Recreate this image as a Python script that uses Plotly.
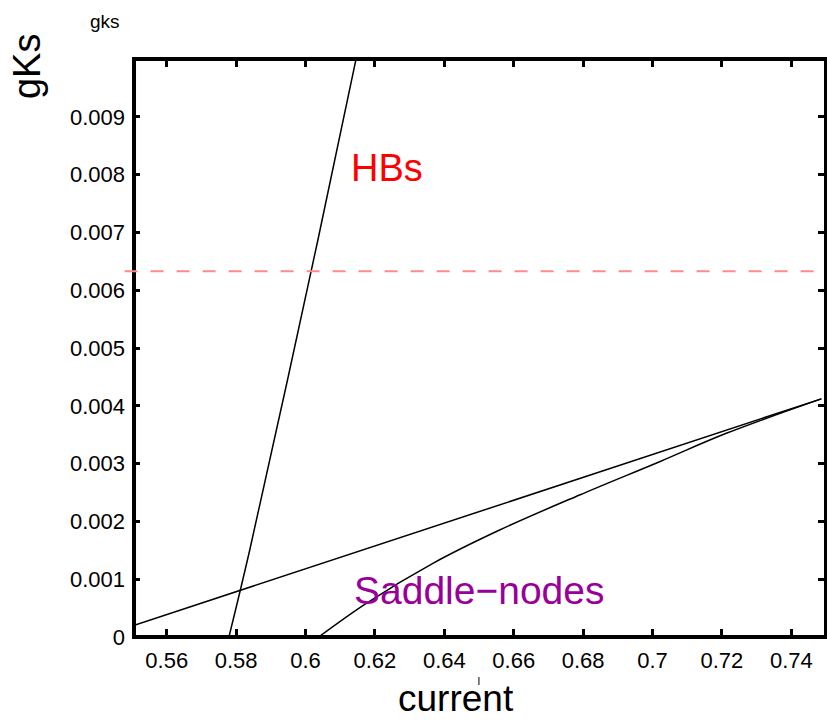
import plotly.graph_objects as go

# ---- data ----
hb_x = [0.57793, 0.58393, 0.60357, 0.61464]
hb_y = [0.0, 0.001505, 0.006869, 0.01002]

sn_line_x = [0.55, 0.74865]
sn_line_y = [0.00019, 0.00412]

sn_curve_x = [0.60378, 0.61752, 0.63671, 0.65594, 0.67899, 0.70204, 0.72127, 0.74865]
sn_curve_y = [0.0, 0.000583, 0.001275, 0.001851, 0.002457, 0.003033, 0.003524, 0.00412]

ref_level = 0.00633

x_ticks = [0.56, 0.58, 0.60, 0.62, 0.64, 0.66, 0.68, 0.70, 0.72, 0.74]
x_ticktext = ["0.56", "0.58", "0.6", "0.62", "0.64", "0.66", "0.68", "0.7", "0.72", "0.74"]
y_ticks = [0, 0.001, 0.002, 0.003, 0.004, 0.005, 0.006, 0.007, 0.008, 0.009]
y_ticktext = ["0", "0.001", "0.002", "0.003", "0.004", "0.005", "0.006", "0.007", "0.008", "0.009"]

FONT = "Liberation Sans"

fig = go.Figure()
line_style = dict(color="black", width=1.5)
fig.add_trace(go.Scatter(x=hb_x, y=hb_y, mode="lines", line=dict(line_style, shape="spline"), showlegend=False))
fig.add_trace(go.Scatter(x=sn_line_x, y=sn_line_y, mode="lines", line=line_style, showlegend=False))
fig.add_trace(go.Scatter(x=sn_curve_x, y=sn_curve_y, mode="lines",
                         line=dict(line_style, shape="spline", smoothing=1.0), showlegend=False))

axis_common = dict(
    showgrid=False, zeroline=False, showline=False,
    ticks="inside", ticklen=8, tickwidth=3, tickcolor="black",
    mirror="allticks",
    tickfont=dict(family=FONT, size=22, color="black"),
)

fig.update_xaxes(range=[0.55, 0.75], tickvals=x_ticks, ticktext=x_ticktext,
                 ticklabelstandoff=8, **axis_common)
fig.update_yaxes(range=[0, 0.01], tickvals=y_ticks, ticktext=y_ticktext,
                 ticklabelstandoff=6, **axis_common)

shapes = [
    dict(type="rect", xref="paper", yref="paper", x0=0.0029, x1=1.0, y0=0, y1=1,
         line=dict(color="black", width=4), layer="above"),
    dict(type="line", xref="paper", yref="y", x0=-0.0107, x1=1.0, y0=ref_level, y1=ref_level,
         line=dict(color="#FF8A8A", width=2, dash="13px,13px"), layer="above"),
    dict(type="line", xref="paper", yref="paper", x0=0.4999, x1=0.4999, y0=-0.0692, y1=-0.0830,
         line=dict(color="black", width=1)),
]

annotations = [
    dict(text="gks", xref="paper", yref="paper", x=-0.0388, y=1.0652, showarrow=False,
         xanchor="center", yanchor="middle", font=dict(family=FONT, size=19, color="black")),
    dict(text="gKs", xref="paper", yref="paper", x=-0.152, y=0.987, showarrow=False, textangle=-90,
         xanchor="center", yanchor="middle", font=dict(family=FONT, size=38, color="black")),
    dict(text="current", xref="paper", yref="paper", x=0.467, y=-0.107, showarrow=False,
         xanchor="center", yanchor="middle", font=dict(family=FONT, size=37, color="black")),
    dict(text="HBs", xref="x", yref="y", x=0.6234, y=0.00812, showarrow=False,
         xanchor="center", yanchor="middle", font=dict(family=FONT, size=38, color="#FF0000")),
    dict(text="Saddle\u2212nodes", xref="x", yref="y", x=0.6499, y=0.000796, showarrow=False,
         xanchor="center", yanchor="middle", font=dict(family=FONT, size=39, color="#990099")),
]

fig.update_layout(
    width=827, height=722,
    margin=dict(l=132.4, r=0.6, t=59, b=85),
    paper_bgcolor="white", plot_bgcolor="white",
    shapes=shapes, annotations=annotations,
    showlegend=False,
)

fig.write_html("out.html")
